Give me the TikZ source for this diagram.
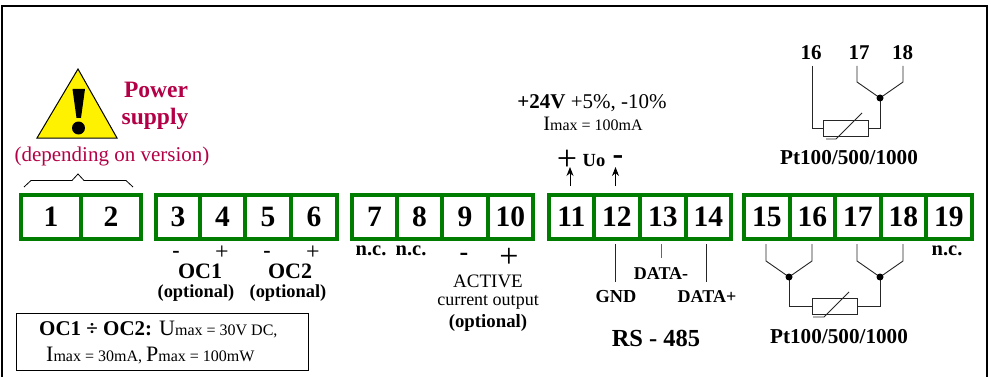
\documentclass[tikz,border=0pt]{standalone}
\usepackage{fontspec}
\usetikzlibrary{arrows.meta}
\setmainfont{Liberation Serif}
\definecolor{tgreen}{RGB}{0,125,0}
\definecolor{pwr}{RGB}{180,0,70}
\newcommand{\fs}[1]{\fontsize{#1}{#1}\selectfont}
\tikzset{
  term/.style={draw=tgreen,line width=3.8pt,minimum height=44pt,inner sep=0pt,anchor=north west,font=\fs{29.5}\bfseries},
  lab/.style={inner sep=0pt,align=center},
  wire/.style={draw=black!85,line width=0.9pt},
  junc/.style={circle,fill=black,inner sep=0pt,minimum size=7pt},
  rtd/.style={draw=black!85,fill=white,line width=0.9pt,minimum width=45pt,minimum height=16pt,inner sep=0pt},
  updart/.style={-{Stealth[length=9pt,width=7pt]},line width=0.9pt}
}
\begin{document}
\begin{tikzpicture}[x=1pt,y=-1pt]
\useasboundingbox (0,0) rectangle (992,377);
\fill[white] (0,0) rectangle (992,377);
\coordinate (fa) at (2,377); \coordinate (fb) at (2,6); \coordinate (fc) at (987,6); \coordinate (fd) at (987,377);
\draw[black,line width=2.5pt,line join=miter] (fa) -- (fb) -- (fc) -- (fd);
% terminals
\foreach \n/\x/\w in {1/19/60,2/79/60,3/154/44,4/198/45,5/243/46,6/289/46,7/350/45,8/395/45,9/440/46,10/486/45,11/547/45,12/592/46,13/638/46,14/684/45,15/742/46,16/788/45,17/833/46,18/879/45,19/924/46}{
  \node[term,minimum width=\w pt] (t\n) at (\x,193) {\n};
}
% warning
\draw[black,fill=yellow,line width=1pt,line join=miter] (78,69) -- (37,138) -- (117,138) -- cycle;
\fill[black] (72.5,89) -- (85,89) -- (81,118) -- (76.5,118) -- cycle;
\fill[black] (78.5,128) circle (6.5pt);
\node[lab,text=pwr,font=\fs{23.5}\bfseries] (pw) at (156,90) {Power};
\node[lab,text=pwr,font=\fs{23.5}\bfseries] (su) at (155,119) {supply};
\node[lab,text=pwr,font=\fs{21}] (dep) at (112,156) {(depending on version)};
\draw[black,line width=0.8pt] (24,187) -- (31,180.5) -- (72,180.5) -- (78,174) -- (84,180.5) -- (126,180.5) -- (133,187);
% under 3-6
\foreach \x in {176,267}{\node[lab,font=\fs{22}\bfseries] at (\x,254) {-};}
\foreach \x in {222,313}{\node[lab,font=\fs{24}] at (\x,253) {+};}
\node[lab,font=\fs{22}\bfseries] (oc1) at (200,271) {OC1};
\node[lab,font=\fs{22}\bfseries] (oc2) at (290,271) {OC2};
\node[lab,font=\fs{18.4}\bfseries] at (196,293) {(optional)};
\node[lab,font=\fs{18.4}\bfseries] at (288,293) {(optional)};
\node[draw=black,line width=1pt,minimum width=292pt,minimum height=57pt,inner sep=0pt,anchor=north west] (box) at (16,313) {};
\node[lab,font=\fs{21},anchor=west] at (39,330) {\textbf{OC1 ÷ OC2:} \fs{22}U\fs{16}max = 30V DC,};
\node[lab,font=\fs{22},anchor=west] at (46,356) {I\fs{16}max = 30mA, \fs{22}P\fs{16}max = 100mW};
% 7-10 labels
\node[lab,font=\fs{20.5}\bfseries] at (371,251) {n.c.};
\node[lab,font=\fs{20.5}\bfseries] at (411,251) {n.c.};
\node[lab,font=\fs{26}\bfseries] at (464,257) {-};
\node[lab,font=\fs{34}] at (509,258) {+};
\node[lab,font=\fs{19}] at (488,281) {ACTIVE};
\node[lab,font=\fs{18}] at (488,302) {current output};
\node[lab,font=\fs{18.8}\bfseries] at (488,323) {(optional)};
% 24V
\node[lab,font=\fs{21}] at (592,103) {\textbf{+24V} +5\%, -10\%};
\node[lab,font=\fs{20.5}] at (593,124) {I\fs{16}max = 100mA};
\node[lab,font=\fs{36}] (plus) at (567,160) {+};
\node[lab,font=\fs{18.5}\bfseries] (uo) at (594,161) {Uo};
\node[lab,font=\fs{32}\bfseries] (minus) at (618,160) {-};
\coordinate (a11) at (570,186); \coordinate (a11t) at (570,167);
\coordinate (a12) at (615.5,186); \coordinate (a12t) at (615.5,167);
\draw[updart] (a11) -- (a11t);
\draw[updart] (a12) -- (a12t);
% RS485
\draw[wire] (615.5,244) -- (615.5,282);
\draw[wire,black!60] (661,244) -- (661,258);
\draw[wire] (706,244) -- (706,282);
\node[lab,font=\fs{18.3}\bfseries] at (616,297) {GND};
\node[lab,font=\fs{18}\bfseries] at (661,274) {DATA-};
\node[lab,font=\fs{18}\bfseries] at (707,297) {DATA+};
\node[lab,font=\fs{24.5}\bfseries] at (656,338) {RS - 485};
% Pt bottom
\draw[wire] (766,244) -- (766,261) -- (789,277) -- (812,261) -- (812,244);
\draw[wire] (857,244) -- (857,261) -- (880,277) -- (903,261) -- (903,244);
\draw[wire] (789,277) -- (789,306.5) -- (880,306.5) -- (880,277);
\node[junc] at (789,277) {};
\node[junc] at (880,277) {};
\node[rtd] (r1) at (834.5,306) {};
\draw[wire] (813,317) -- (824,317) -- (849,292);
\node[lab,font=\fs{21.2}\bfseries] at (839,337) {Pt100/500/1000};
\node[lab,font=\fs{20.5}\bfseries] at (947,251) {n.c.};
% Pt top
\node[lab,font=\fs{21}\bfseries] at (811,53) {16};
\node[lab,font=\fs{21}\bfseries] at (859,53) {17};
\node[lab,font=\fs{21}\bfseries] at (902.5,53) {18};
\draw[wire] (812,66) -- (812,128) -- (880,128) -- (880,98);
\draw[wire] (857,66) -- (857,82) -- (880,98) -- (903,82) -- (903,66);
\node[junc] at (880,98) {};
\node[rtd] (r2) at (846,128) {};
\draw[wire] (826,139) -- (836,139) -- (862,113);
\node[lab,font=\fs{21.2}\bfseries] at (849,158) {Pt100/500/1000};
\end{tikzpicture}
\end{document}
